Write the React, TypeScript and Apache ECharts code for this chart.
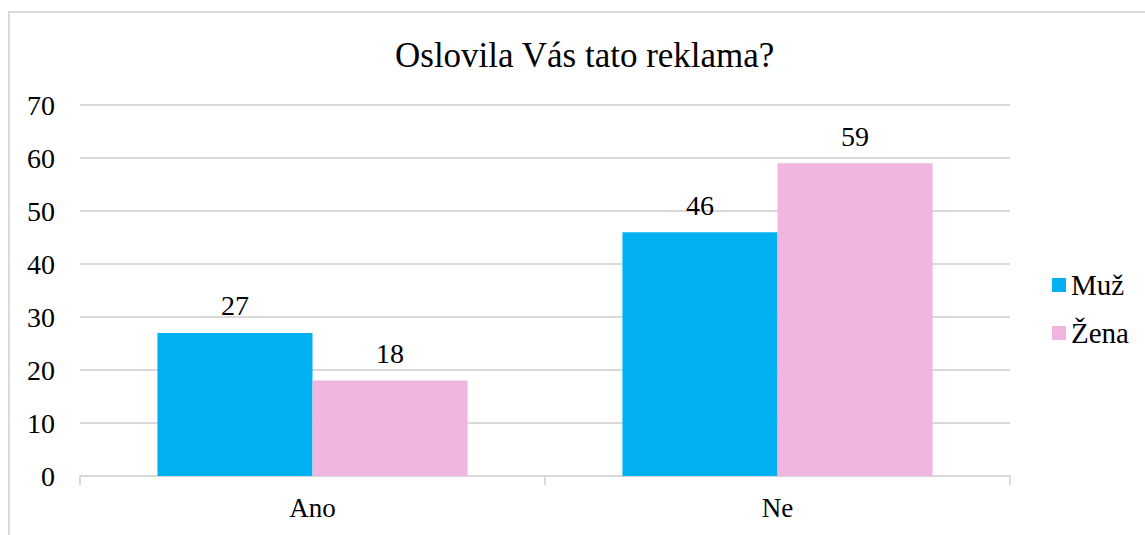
import React, { useEffect, useRef } from "react";
import * as echarts from "echarts";

const categories = ["Ano", "Ne"];
const seriesNames = ["Muž", "Žena"];
const muzValues = [27, 46];
const zenaValues = [18, 59];
const colors = ["#00B0F0", "#F0B6E0"];
const titleText = "Oslovila Vás tato reklama?";
const FONT = "Liberation Serif";

export default function App() {
  const ref = useRef<HTMLDivElement>(null);
  useEffect(() => {
    if (!ref.current) return;
    const chart = echarts.init(ref.current, null, { renderer: "svg" });
    const txt = (size: number) => ({
      fontFamily: FONT,
      fontSize: size,
      fontWeight: "normal" as const,
      fontStyle: "normal" as const,
      color: "#000",
    });
    const labelStyle = {
      show: true,
      position: "top" as const,
      distance: 13,
      ...txt(28),
    };
    chart.setOption({
      animation: false,
      backgroundColor: "#fff",
      textStyle: { fontFamily: FONT, fontSize: 28, color: "#000" },
      graphic: [
        {
          type: "rect",
          shape: { x: 9, y: 12, width: 1200, height: 600 },
          style: { fill: "none", stroke: "#D9D9D9", lineWidth: 2 },
          silent: true,
        },
      ],
      title: {
        text: titleText,
        left: 395,
        top: 38,
        textStyle: { ...txt(35), lineHeight: 35 },
        padding: 0,
      },
      legend: {
        orient: "vertical",
        left: 1052,
        top: 270,
        padding: 0,
        itemWidth: 14,
        itemHeight: 14,
        itemGap: 18,
        icon: "rect",
        textStyle: { ...txt(29), lineHeight: 30 },
        data: seriesNames,
      },
      grid: { left: 80, right: 135, top: 105, bottom: 59, containLabel: false },
      xAxis: {
        type: "category",
        data: categories,
        axisLine: { show: true, lineStyle: { color: "#D9D9D9", width: 2 } },
        axisTick: { show: true, length: 9, lineStyle: { color: "#D9D9D9", width: 2 } },
        axisLabel: { ...txt(27), margin: 18 },
      },
      yAxis: {
        type: "value",
        min: 0,
        max: 70,
        interval: 10,
        axisLine: { show: false },
        axisTick: { show: false },
        splitLine: { lineStyle: { color: "#D9D9D9", width: 2 } },
        axisLabel: { ...txt(28), margin: 25 },
      },
      series: [
        {
          name: seriesNames[0],
          type: "bar",
          data: muzValues,
          itemStyle: { color: colors[0] },
          barGap: "0%",
          barCategoryGap: "33.3%",
          label: labelStyle,
        },
        {
          name: seriesNames[1],
          type: "bar",
          data: zenaValues,
          itemStyle: { color: colors[1] },
          barGap: "0%",
          barCategoryGap: "33.3%",
          label: labelStyle,
        },
      ],
    });
    return () => chart.dispose();
  }, []);
  return (
    <div
      ref={ref}
      style={{ position: "fixed", left: 0, top: 0, width: 1145, height: 535 }}
    />
  );
}
